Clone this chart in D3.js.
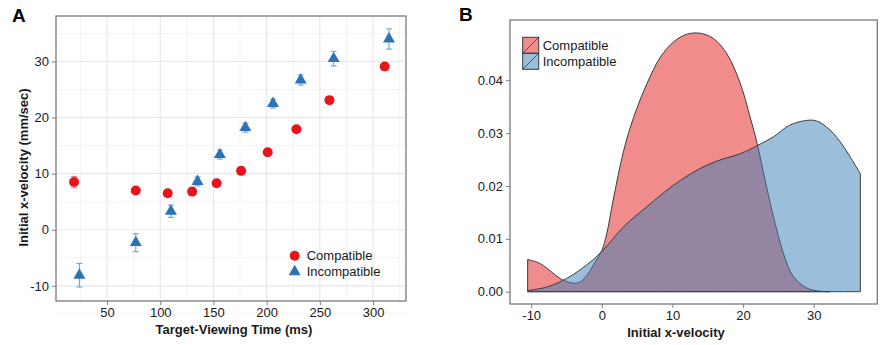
<!DOCTYPE html>
<html>
<head>
<meta charset="utf-8">
<script src="https://cdn.jsdelivr.net/npm/d3@7"></script>
<style>
	body { margin: 0; background: #fff; }
	svg { display: block; font-family: "Liberation Sans", Arial, sans-serif; }
	.tick text { font-size: 13px; fill: #1a1a1a; }
	.tick line { stroke: #7f7f7f; }
	.axis path { display: none; }
	.axis-title { font-size: 13px; font-weight: bold; fill: #1a1a1a; }
	.panel-label { font-size: 19px; font-weight: bold; fill: #000; }
	.legend-text { font-size: 13px; fill: #1a1a1a; }
</style>
</head>
<body>
<svg id="chart" width="892" height="345"></svg>
<script>

// Panel A: initial x-velocity by target-viewing time
let timeCompat = [19, 77, 107, 130, 153, 176, 201, 228, 259, 311];
let velCompat = [8.5, 7.0, 6.5, 6.8, 8.3, 10.5, 13.8, 17.9, 23.1, 29.1];
let seCompat = [1.0, 0.6, 0.5, 0.6, 0.6, 0.6, 0.6, 0.5, 0.5, 0.6];

let timeIncompat = [24, 77, 110, 135, 156, 180, 206, 232, 263, 315];
let velIncompat = [-8.1, -2.3, 3.3, 8.6, 13.4, 18.2, 22.5, 26.7, 30.5, 34.0];
let seIncompat = [2.1, 1.6, 1.1, 0.8, 0.8, 0.8, 0.8, 0.9, 1.3, 1.8];

let timeTicks = [50, 100, 150, 200, 250, 300];
let velTicks = [-10, 0, 10, 20, 30];

// Panel B: density of initial x-velocity
let densXCompat = [-10.5, -8.7, -6.9, -5.5, -4.0, -3.0, -2.0, -1.0, 0, 0.7, 1.6, 3.1, 4.5, 6.4, 8.3,
	10.2, 12.0, 13.9, 15.8, 17.7, 19.6, 21.0, 22.0, 22.9, 24.3, 25.7, 27.1, 29.0, 30.9, 32.3];
let densCompat = [0.0061, 0.0053, 0.0035, 0.0022, 0.0016, 0.0019, 0.0033, 0.0055, 0.0078, 0.0110, 0.0173,
	0.0267, 0.0330, 0.0394, 0.0444, 0.0473, 0.0487, 0.0489, 0.0479, 0.0450, 0.0394, 0.0330, 0.0280,
	0.0224, 0.0142, 0.0073, 0.0029, 0.0007, 0.0001, 0.0];

let densXIncompat = [-10.5, -8.0, -6.0, -4.0, -2.0, 0, 3.1, 6.4, 10.2, 13.9, 16.7, 19.6, 22.4, 24.3,
	26.6, 29.0, 30.4, 32.3, 34.2, 36.6];
let densIncompat = [0.0002, 0.0008, 0.0018, 0.0033, 0.0052, 0.0076, 0.0123, 0.0161, 0.0202, 0.0233,
	0.0249, 0.0261, 0.0279, 0.0293, 0.0315, 0.0324, 0.0323, 0.0306, 0.0275, 0.0223];

let densXTicks = [-10, 0, 10, 20, 30];
let densYTicks = [0, 0.01, 0.02, 0.03, 0.04];

let groups = ["Compatible", "Incompatible"];

let svg = d3.select("#chart");

// plain hyphen for negatives, like the original
let plainFormat = d => String(d);

/*
 * Scatter with error bars (panel A)
 */
function drawScatter() {
	let margin = { left: 56, top: 16 };
	let width = 350, height = 285;

	let g = svg.append("g")
		.attr("transform", "translate(" + margin.left + "," + margin.top + ")");

	let x = d3.scaleLinear().domain([2, 331]).range([0, width]);
	let y = d3.scaleLinear().domain([-12.7, 38.1]).range([height, 0]);

	// minor + major grid
	let minorX = timeTicks.map(d => d - 25).concat([325]);
	let minorY = velTicks.map(d => d - 5).concat([35]);

	g.selectAll(".minor-x").data(minorX).enter().append("line")
		.attr("x1", d => x(d)).attr("x2", d => x(d))
		.attr("y1", 0).attr("y2", height)
		.attr("stroke", "#f3f3f3").attr("stroke-width", 1);
	g.selectAll(".minor-y").data(minorY).enter().append("line")
		.attr("y1", d => y(d)).attr("y2", d => y(d))
		.attr("x1", 0).attr("x2", width)
		.attr("stroke", "#f3f3f3").attr("stroke-width", 1);
	g.selectAll(".major-x").data(timeTicks).enter().append("line")
		.attr("x1", d => x(d)).attr("x2", d => x(d))
		.attr("y1", 0).attr("y2", height)
		.attr("stroke", "#e8e8e8").attr("stroke-width", 1.2);
	g.selectAll(".major-y").data(velTicks).enter().append("line")
		.attr("y1", d => y(d)).attr("y2", d => y(d))
		.attr("x1", 0).attr("x2", width)
		.attr("stroke", "#e8e8e8").attr("stroke-width", 1.2);

	// axes
	g.append("g")
		.attr("class", "axis")
		.attr("transform", "translate(0," + height + ")")
		.call(d3.axisBottom(x).tickValues(timeTicks).tickFormat(plainFormat).tickSize(4).tickPadding(3));
	g.append("g")
		.attr("class", "axis")
		.call(d3.axisLeft(y).tickValues(velTicks).tickFormat(plainFormat).tickSize(4).tickPadding(3));

	let compat = timeCompat.map((t, i) => ({ t: t, v: velCompat[i], se: seCompat[i] }));
	let incompat = timeIncompat.map((t, i) => ({ t: t, v: velIncompat[i], se: seIncompat[i] }));

	// error bars
	function errorBars(data, color) {
		let eb = g.append("g").attr("stroke", color).attr("stroke-width", 1.1).attr("fill", "none");
		data.forEach(d => {
			eb.append("line").attr("x1", x(d.t)).attr("x2", x(d.t))
				.attr("y1", y(d.v - d.se)).attr("y2", y(d.v + d.se));
			eb.append("line").attr("x1", x(d.t) - 3).attr("x2", x(d.t) + 3)
				.attr("y1", y(d.v - d.se)).attr("y2", y(d.v - d.se));
			eb.append("line").attr("x1", x(d.t) - 3).attr("x2", x(d.t) + 3)
				.attr("y1", y(d.v + d.se)).attr("y2", y(d.v + d.se));
		});
	}
	errorBars(compat, "#f07b7e");
	errorBars(incompat, "#6ea3d4");

	let tri = d3.symbol().type(d3.symbolTriangle).size(62);

	g.selectAll(".pt-c").data(compat).enter().append("circle")
		.attr("cx", d => x(d.t)).attr("cy", d => y(d.v))
		.attr("r", 5).attr("fill", "#e8141c");
	g.selectAll(".pt-i").data(incompat).enter().append("path")
		.attr("d", tri)
		.attr("transform", d => "translate(" + x(d.t) + "," + y(d.v) + ")")
		.attr("fill", "#2b73b6");

	// border
	g.append("rect").attr("width", width).attr("height", height)
		.attr("fill", "none").attr("stroke", "#7a7a7a").attr("stroke-width", 1.3);

	// legend
	let lg = g.append("g").attr("transform", "translate(" + (294.7 - margin.left) + "," + (255.7 - margin.top) + ")");
	lg.append("circle").attr("r", 5).attr("fill", "#e8141c");
	lg.append("path").attr("d", tri).attr("transform", "translate(0,16)").attr("fill", "#2b73b6");
	lg.selectAll(".lt").data(groups).enter().append("text")
		.attr("class", "legend-text")
		.attr("x", 12).attr("y", (d, i) => i * 16 + 4.5)
		.text(d => d);

	// titles
	svg.append("text").attr("class", "axis-title")
		.attr("text-anchor", "middle")
		.attr("x", margin.left + width / 2 + 3).attr("y", 334)
		.text("Target-Viewing Time (ms)");
	svg.append("text").attr("class", "axis-title")
		.attr("text-anchor", "middle")
		.attr("transform", "translate(28," + (margin.top + height / 2 + 9) + ") rotate(-90)")
		.text("Initial x-velocity (mm/sec)");
	svg.append("text").attr("class", "panel-label")
		.attr("x", 12).attr("y", 22).text("A");
}

/*
 * Overlapping densities (panel B)
 */
function drawDensity() {
	let margin = { left: 510, top: 20 };
	let width = 367.3, height = 284;

	let g = svg.append("g")
		.attr("transform", "translate(" + margin.left + "," + margin.top + ")");

	let x = d3.scaleLinear().domain([-13.0, 39.0]).range([0, width]);
	let y = d3.scaleLinear().domain([-0.00233, 0.0514]).range([height, 0]);

	g.append("g")
		.attr("class", "axis")
		.attr("transform", "translate(0," + height + ")")
		.call(d3.axisBottom(x).tickValues(densXTicks).tickFormat(plainFormat).tickSize(4).tickPadding(3));
	g.append("g")
		.attr("class", "axis")
		.call(d3.axisLeft(y).tickValues(densYTicks).tickFormat(d3.format(".2f")).tickSize(4).tickPadding(3));

	let area = d3.area()
		.curve(d3.curveCatmullRom.alpha(0.5))
		.x(d => x(d[0]))
		.y0(y(0))
		.y1(d => y(Math.max(0, d[1])));

	let series = [
		{ pts: densXCompat.map((v, i) => [v, densCompat[i]]), color: "#e41a1c" },
		{ pts: densXIncompat.map((v, i) => [v, densIncompat[i]]), color: "#377eb8" }
	];

	series.forEach(s => {
		g.append("path")
			.datum(s.pts)
			.attr("d", d => area(d) + "Z")
			.attr("fill", s.color)
			.attr("fill-opacity", 0.5)
			.attr("stroke", "#3b3b3b")
			.attr("stroke-width", 1);
	});

	g.append("rect").attr("width", width).attr("height", height)
		.attr("fill", "none").attr("stroke", "#7a7a7a").attr("stroke-width", 1.3);

	// legend
	let lg = g.append("g").attr("transform", "translate(" + (522.7 - margin.left) + "," + (37.3 - margin.top) + ")");
	let keys = lg.selectAll(".key").data(series).enter().append("g")
		.attr("transform", (d, i) => "translate(0," + i * 16 + ")");
	keys.append("rect").attr("width", 16).attr("height", 16)
		.attr("fill", d => d.color).attr("fill-opacity", 0.5)
		.attr("stroke", "#3b3b3b").attr("stroke-width", 1);
	keys.append("line").attr("x1", 0).attr("y1", 16).attr("x2", 16).attr("y2", 0)
		.attr("stroke", "#3b3b3b").attr("stroke-width", 0.8);
	lg.selectAll(".lt").data(groups).enter().append("text")
		.attr("class", "legend-text")
		.attr("x", 20).attr("y", (d, i) => i * 16 + 13)
		.text(d => d);

	svg.append("text").attr("class", "axis-title")
		.attr("text-anchor", "middle")
		.attr("x", 676).attr("y", 337)
		.text("Initial x-velocity");
	svg.append("text").attr("class", "panel-label")
		.attr("x", 459).attr("y", 21).text("B");
}

drawScatter();
drawDensity();

</script>
</body>
</html>
